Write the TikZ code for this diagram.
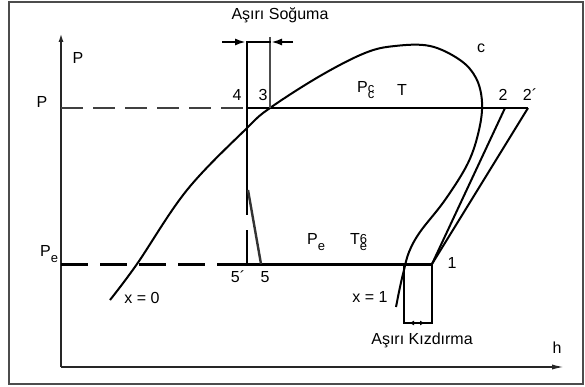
\documentclass[tikz,border=0pt]{standalone}
\usepackage{fontspec}
\setmainfont{Liberation Sans}
\usetikzlibrary{arrows.meta}
\begin{document}
\begin{tikzpicture}[x=1pt,y=-1pt,
  lbl/.style={inner sep=0pt,font=\fontsize{16}{18}\selectfont},
  axis/.style={line width=2pt,draw=black!85},
  thin/.style={line width=1.3pt},
  thick/.style={line width=3pt},
  curve/.style={line width=2pt},
  dimarrow/.style={line width=2pt,-{Latex[length=11pt,width=7pt]}},
]
\useasboundingbox (0,0) rectangle (585,387);
\fill[white] (0,0) rectangle (585,387);
\draw[line width=2pt,draw=black!70] (9,2) rectangle (583,384);

% coordinates
\coordinate (O) at (61,367);
\coordinate (Ytop) at (61,33);
\coordinate (Xend) at (566,367);
\coordinate (Pl) at (61,108);
\coordinate (Pd) at (247,108);
\coordinate (p2p) at (528,108);
\coordinate (p2) at (505,108);
\coordinate (Pel) at (61,264);
\coordinate (Ped) at (217,264);
\coordinate (p1) at (432,264);
\coordinate (p5p) at (247,264);
\coordinate (p5) at (261,264);
\coordinate (q5) at (248,190);
\coordinate (v4top) at (247,42);
\coordinate (v4a) at (247,215);
\coordinate (v4b) at (247,230);
\coordinate (p3) at (270,108);
\coordinate (v3top) at (270,37);
\coordinate (dL) at (222,42);
\coordinate (dR) at (293,42);
\coordinate (d4) at (246,42);
\coordinate (d3) at (271,42);
\coordinate (sv) at (404,264);
\coordinate (svb) at (404,323);
\coordinate (p1b) at (432,323);
\coordinate (ka) at (409,323);
\coordinate (kb) at (425,323);

% axes
\draw[axis,-{Latex[length=9pt,width=5pt]}] (O) -- (Ytop);
\draw[axis,-{Latex[length=14pt,width=5pt]}] (O) -- (Xend);

% pressure lines
\draw[thin,draw=black!75,dash pattern=on 22pt off 10pt] (Pl) -- (Pd);
\draw[thin] (Pd) -- (p2p);
\draw[thick,dash pattern=on 27pt off 12pt] (Pel) -- (Ped);
\draw[thick] (Ped) -- (p1);

% saturation dome
\draw[curve] plot[smooth,tension=0.6] coordinates {
 (110,300) (137,264) (187,190) (247,128) (270,108) (320,76) (365,53) (395,46)
 (430,46) (460,60) (476,78) (482,102) (479,130) (468,163) (445,200) (420,232)
 (409,252) (404,270) (400,287) (396,307)};

% compression lines
\draw[curve] (p1) -- (p2p);
\draw[curve] (p1) -- (p2);

% subcooling
\draw[thin] (v4top) -- (v4a);
\draw[thin] (v4b) -- (p5p);
\draw[thin,draw=black!70] (v3top) -- (p3);
\draw[line width=2.4pt,draw=black!80] (q5) -- (p5);
\draw[line width=2pt] (d4) -- (d3);
\draw[dimarrow] (dL) -- (d4);
\draw[dimarrow] (dR) -- (d3);

% superheating
\draw[thin] (sv) -- (svb) -- (p1b) -- (p1);
\draw[line width=1.6pt,{Latex[length=5pt,width=5pt]}-{Latex[length=5pt,width=5pt]}] (ka) -- (kb);

% labels
\node[lbl] (tS) at (280,15) {Aşırı Soğuma};
\node[lbl] (tPa) at (78,58) {P};
\node[lbl] (tP) at (42,102) {P};
\node[lbl] (t4) at (237,95) {4};
\node[lbl] (t3) at (263,95) {3};
\node[lbl] (tc) at (481,48) {c};
\node[lbl,anchor=west] (tPc) at (357,90) {P{\fontsize{13}{14}\selectfont\rlap{c}\raisebox{-6pt}{c}}};
\node[lbl] (tT) at (402,90) {T};
\node[lbl] (t2) at (503,95) {2};
\node[lbl] (t2p) at (530,95) {2´};
\node[lbl,anchor=west] (tPe) at (40,254) {P\raisebox{-6pt}{\fontsize{13}{14}\selectfont e}};
\node[lbl] (t5p) at (238,277) {5´};
\node[lbl] (t5) at (265,277) {5};
\node[lbl] (tx0) at (142,298) {x = 0};
\node[lbl,anchor=west] (tPe2) at (307,242) {P\raisebox{-6pt}{\fontsize{13}{14}\selectfont e}};
\node[lbl,anchor=west] (tTe) at (350,242) {T{\fontsize{13}{14}\selectfont\rlap{\raisebox{1pt}{6}}\raisebox{-6pt}{e}}};
\node[lbl] (t1) at (452,263) {1};
\node[lbl] (tx1) at (370,297) {x = 1};
\node[lbl] (tK) at (422,340) {Aşırı Kızdırma};
\node[lbl] (th) at (557,348) {h};
\end{tikzpicture}
\end{document}
